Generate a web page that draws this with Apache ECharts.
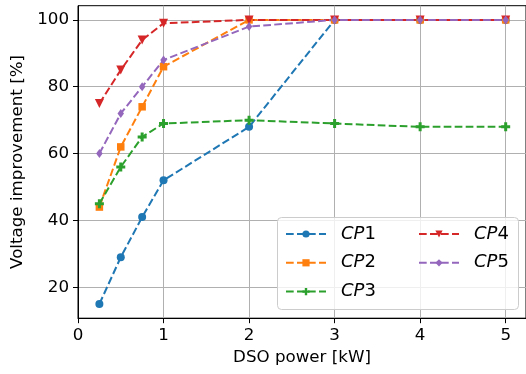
<!DOCTYPE html>
<html>
<head>
<meta charset="utf-8">
<script src="https://cdn.jsdelivr.net/npm/echarts@6/dist/echarts.min.js"></script>
<style>html,body{margin:0;padding:0;background:#fff}#c{width:526px;height:374px}</style>
</head>
<body>
<div id="c"></div>
<script>
const xValues = [0.25, 0.5, 0.75, 1, 2, 3, 4, 5];
const seriesNames = ['CP1', 'CP2', 'CP3', 'CP4', 'CP5'];
const cp1 = [15, 29, 41, 52, 68, 100, 100, 100];
const cp2 = [44, 62, 74, 86, 100, 100, 100, 100];
const cp3 = [45, 56, 65, 69, 70, 69, 68, 68];
const cp4 = [75, 85, 94, 99, 100, 100, 100, 100];
const cp5 = [60, 72, 80, 88, 98, 100, 100, 100];
const yTicks = [20, 40, 60, 80, 100];
const xTitle = 'DSO power [kW]';
const yTitle = 'Voltage improvement [%]';

const colors = ['#1f77b4', '#ff7f0e', '#2ca02c', '#d62728', '#9467bd'];
const symbols = ['circle', 'rect', 'path://M2,0H4V2H6V4H4V6H2V4H0V2H2Z', 'triangle', 'diamond'];
const symbolSizes = [8, 7.5, 9, 9, [6.5, 9]];
const rotates = [0, 0, 0, 180, 0];
const allData = [cp1, cp2, cp3, cp4, cp5];
const FONT = 'DejaVu Sans';

const series = seriesNames.map((n, i) => ({
  name: n,
  type: 'line',
  data: xValues.map((x, j) => [x, allData[i][j]]),
  symbol: symbols[i],
  symbolSize: symbolSizes[i],
  symbolRotate: rotates[i],
  showAllSymbol: true,
  color: colors[i],
  lineStyle: { color: colors[i], width: 2, type: [7.7, 3.3] },
  itemStyle: { color: colors[i] },
  emphasis: { disabled: true },
  animation: false,
  clip: true
}));

const legendText = {
  fontFamily: FONT, fontSize: 18, lineHeight: 14, color: '#000', padding: [0, 0, 0, 10],
  rich: { i: { fontFamily: FONT, fontStyle: 'italic', fontSize: 18, lineHeight: 14, color: '#000' },
          n: { fontFamily: FONT, fontSize: 18, lineHeight: 14, color: '#000' } }
};
const fmt = name => '{i|' + name.slice(0, 2) + '}{n|' + name.slice(2) + '}';

const chart = echarts.init(document.getElementById('c'), null, { renderer: 'canvas' });
chart.setOption({
  animation: false,
  grid: { left: 78, top: 5.7, width: 449.4, height: 312.5, show: true, borderColor: '#000', borderWidth: 1, backgroundColor: 'transparent' },
  xAxis: {
    type: 'value', min: 0, max: 5.2375, interval: 1,
    name: xTitle, nameLocation: 'middle', nameGap: 27,
    nameTextStyle: { fontFamily: FONT, fontSize: 16.7, color: '#000' },
    axisLine: { show: true, onZero: false, lineStyle: { color: '#000', width: 1 } },
    axisTick: { show: true, length: 5, lineStyle: { color: '#000', width: 1 } },
    axisLabel: { fontFamily: FONT, fontSize: 16.7, color: '#000', margin: 9, showMaxLabel: false },
    splitLine: { show: true, lineStyle: { color: '#b0b0b0', width: 1 } }
  },
  yAxis: {
    type: 'value', min: 10.75, max: 104.25,
    name: yTitle, nameLocation: 'middle', nameGap: 50, nameRotate: 90,
    nameTextStyle: { fontFamily: FONT, fontSize: 16.7, color: '#000' },
    axisLine: { show: true, lineStyle: { color: '#000', width: 1 } },
    axisTick: { show: true, length: 5, customValues: yTicks, lineStyle: { color: '#000', width: 1 } },
    axisLabel: { fontFamily: FONT, fontSize: 16.7, color: '#000', margin: 9, customValues: yTicks },
    splitLine: { show: true, lineStyle: { color: '#b0b0b0', width: 1 } }
  },
  graphic: [{
    type: 'rect', z: 3, zlevel: 0,
    shape: { x: 277.5, y: 217.5, width: 241, height: 92, r: 4 },
    style: { fill: 'rgba(255,255,255,0.8)', stroke: '#cccccc', lineWidth: 1 }
  }],
  legend: [
    { data: seriesNames.slice(0, 3), orient: 'vertical', left: 285, top: 225, padding: 0, itemWidth: 40, itemHeight: 9, itemGap: 10.8, z: 5,
      formatter: fmt, textStyle: legendText, selectedMode: false },
    { data: seriesNames.slice(3), orient: 'vertical', left: 418, top: 225, padding: 0, itemWidth: 40, itemHeight: 9, itemGap: 10.8, z: 5,
      formatter: fmt, textStyle: legendText, selectedMode: false }
  ],
  series: series
});
</script>
</body>
</html>
